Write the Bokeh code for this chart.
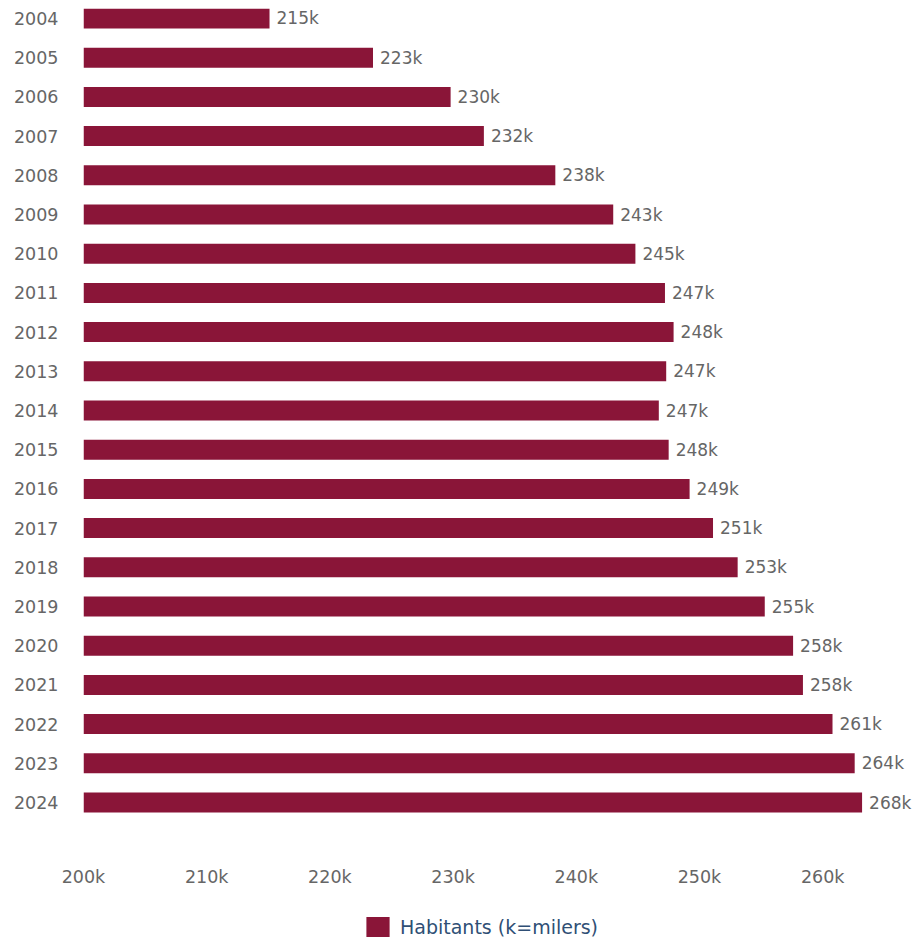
from bokeh.plotting import figure
from bokeh.layouts import column
from bokeh.models import ColumnDataSource, Range1d, FixedTicker, Legend, LegendItem, CustomJSTickFormatter
from bokeh.embed import file_html
from bokeh.resources import INLINE
from bokeh.core.properties import value

# Data (thousands of inhabitants)
years = list(range(2004, 2025))
bar_values = [215.1, 223.5, 229.8, 232.5, 238.3, 243.0, 244.8, 247.2, 247.9, 247.3,
              246.7, 247.5, 249.2, 251.1, 253.1, 255.3, 257.6, 258.4, 260.8, 262.6, 263.2]
bar_labels = ["215k", "223k", "230k", "232k", "238k", "243k", "245k", "247k", "248k", "247k",
              "247k", "248k", "249k", "251k", "253k", "255k", "258k", "258k", "261k", "264k", "268k"]
x_ticks = [200, 210, 220, 230, 240, 250, 260]
series_name = "Habitants (k=milers)"

BAR = "#8a1538"
GREY = "#666666"
FONT = "DejaVu Sans"

src = ColumnDataSource(dict(year=years, val=bar_values, lab=bar_labels))

p = figure(frame_width=835, frame_height=832,
           x_range=Range1d(200, 267.78), y_range=Range1d(2024.969, 2003.745),
           output_backend="svg", toolbar_location=None,
           min_border_left=83, min_border_top=8, min_border_right=0, min_border_bottom=55)

r = p.hbar(y="year", right="val", left=200, height=0.51, source=src,
           fill_color=BAR, line_color=None)

p.text(x="val", y="year", text="lab", source=src, x_offset=7,
       text_align="left", text_baseline="middle", text_color=GREY,
       text_font=value(FONT), text_font_size="17px")

p.grid.visible = False
p.outline_line_color = None

p.xaxis.ticker = FixedTicker(ticks=x_ticks)
p.xaxis.formatter = CustomJSTickFormatter(code="return tick + 'k';")
p.yaxis.ticker = FixedTicker(ticks=years)
p.yaxis.formatter = CustomJSTickFormatter(code="return String(tick);")

for ax in (p.xaxis[0], p.yaxis[0]):
    ax.axis_line_color = None
    ax.major_tick_line_color = None
    ax.minor_tick_line_color = None
    ax.major_tick_out = 0
    ax.major_tick_in = 0
    ax.major_label_text_color = GREY
    ax.major_label_text_font = FONT
    ax.major_label_text_font_size = "17.5px"
p.xaxis.major_label_standoff = 26
p.yaxis.major_label_standoff = 25

# Legend strip below the chart (proxy renderer kept outside the visible range)
lf = figure(width=918, height=44, x_range=Range1d(0, 1), y_range=Range1d(0, 1),
            output_backend="svg", toolbar_location=None,
            min_border_left=0, min_border_right=0, min_border_top=0, min_border_bottom=0)
lf.axis.visible = False
lf.grid.visible = False
lf.outline_line_color = None
lr = lf.hbar(y=[-10], right=[1], left=0, height=0.5, fill_color=BAR, line_color=None,
             border_radius=3)

legend = Legend(items=[LegendItem(label=series_name, renderers=[lr])],
                orientation="horizontal", location=(280, 0),
                label_text_font=FONT, label_text_font_size="19px",
                label_text_color="#2f4f75", glyph_width=29, glyph_height=25,
                label_standoff=8, border_line_color=None, background_fill_alpha=0,
                padding=0, margin=0)
lf.add_layout(legend, "center")

layout = column(p, lf, spacing=0)
open("out.html", "w").write(file_html(layout, INLINE))
